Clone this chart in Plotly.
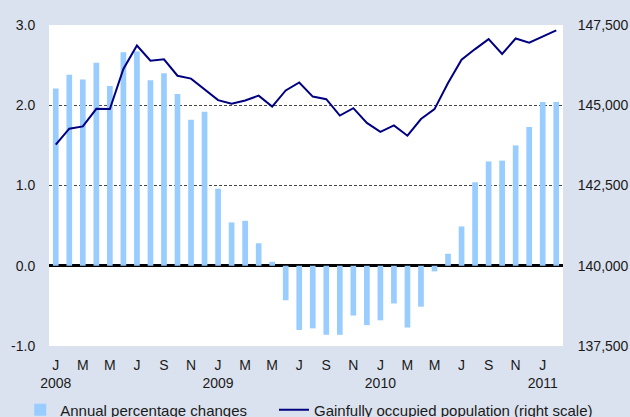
import plotly.graph_objects as go

months = ["Jan 2008","Feb 2008","Mar 2008","Apr 2008","May 2008","Jun 2008","Jul 2008","Aug 2008","Sep 2008","Oct 2008","Nov 2008","Dec 2008",
          "Jan 2009","Feb 2009","Mar 2009","Apr 2009","May 2009","Jun 2009","Jul 2009","Aug 2009","Sep 2009","Oct 2009","Nov 2009","Dec 2009",
          "Jan 2010","Feb 2010","Mar 2010","Apr 2010","May 2010","Jun 2010","Jul 2010","Aug 2010","Sep 2010","Oct 2010","Nov 2010","Dec 2010",
          "Jan 2011","Feb 2011"]

annual_change = [2.21, 2.38, 2.32, 2.53, 2.24, 2.66, 2.67, 2.31, 2.40, 2.14, 1.82, 1.92,
                 0.96, 0.54, 0.56, 0.28, 0.05, -0.43, -0.80, -0.78, -0.86, -0.86, -0.62, -0.74,
                 -0.68, -0.47, -0.77, -0.51, -0.07, 0.15, 0.49, 1.04, 1.30, 1.31, 1.50, 1.73,
                 2.04, 2.04]

occupied_population = [143770, 144270, 144340, 144890, 144880, 146130, 146860, 146390, 146430, 145920, 145830, 145500,
                       145160, 145050, 145150, 145300, 144960, 145460, 145710, 145270, 145190, 144680, 144910, 144450,
                       144170, 144370, 144050, 144570, 144880, 145690, 146420, 146750, 147060, 146600, 147080, 146950,
                       147130, 147330]

tick_positions = list(range(0, 38, 2))
tick_labels = ["J<br>2008", "M", "M", "J", "S", "N",
               "J<br>2009", "M", "M", "J", "S", "N",
               "J<br>2010", "M", "M", "J", "S", "N",
               "J<br>2011"]

left_ticks = [-1, 0, 1, 2, 3]
left_tick_labels = ["-1.0", "0.0", "1.0", "2.0", "3.0"]
right_ticks = [137500, 140000, 142500, 145000, 147500]
right_tick_labels = ["137,500", "140,000", "142,500", "145,000", "147,500"]

x = list(range(len(months)))
BG = "#dbe2ef"
FONT = "Liberation Sans, Arial, sans-serif"

fig = go.Figure()
fig.add_trace(go.Bar(
    x=x, y=annual_change, name="Annual percentage changes",
    marker=dict(color="#99ccff", line=dict(width=0)),
    width=0.42, hovertext=months, legend="legend",
))
fig.add_trace(go.Scatter(
    x=x, y=occupied_population, name="Gainfully occupied population (right scale)",
    mode="lines", line=dict(color="#000080", width=2), yaxis="y2", hovertext=months,
    legend="legend2",
))

legend_common = dict(orientation="h", xanchor="left", yanchor="top",
                     bgcolor="rgba(0,0,0,0)", font=dict(size=15, color="#1a1a1a"))

fig.update_layout(
    width=630, height=417,
    paper_bgcolor=BG, plot_bgcolor="white",
    margin=dict(l=49, r=67, t=25, b=71, autoexpand=False),
    font=dict(family=FONT, size=14, color="#1a1a1a"),
    showlegend=True,
    legend=dict(x=-0.056, y=-0.148, **legend_common),
    legend2=dict(x=0.4377, y=-0.148, **legend_common),
    bargap=0.5,
    xaxis=dict(range=[-0.5, 37.5], tickmode="array", tickvals=tick_positions, ticktext=tick_labels,
               showgrid=False, zeroline=False, showline=False, ticks="outside", ticklen=6,
               tickcolor="rgba(0,0,0,0)", tickangle=0),
    yaxis=dict(range=[-1, 3], tickmode="array", tickvals=left_ticks, ticktext=left_tick_labels,
               showgrid=True, gridcolor="#444444", griddash="3px,2px", gridwidth=1,
               zeroline=True, zerolinecolor="black", zerolinewidth=2.5, showline=False,
               ticks="outside", ticklen=10, tickcolor="rgba(0,0,0,0)"),
    yaxis2=dict(range=[137500, 147500], overlaying="y", side="right", tickmode="array",
                tickvals=right_ticks, ticktext=right_tick_labels, showgrid=False, zeroline=False,
                showline=False, ticks="outside", ticklen=11, tickcolor="rgba(0,0,0,0)"),
)

fig.write_html("out.html", config={"displayModeBar": False},
               post_script="document.body.style.margin='0';document.body.style.padding='0';")
